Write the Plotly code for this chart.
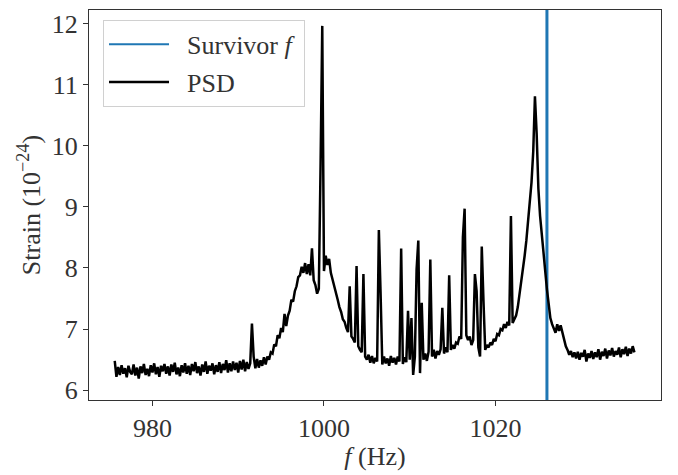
import numpy as np
import plotly.graph_objects as go

# PSD values, one value every 0.2 Hz starting at 975.6 Hz
f_start = 975.6
f_step = 0.2
psd = [
    6.48, 6.22, 6.38, 6.25, 6.41, 6.27, 6.36, 6.21, 6.40, 6.30,   # 975.6
    6.26, 6.42, 6.24, 6.37, 6.19, 6.39, 6.28, 6.43, 6.25, 6.35,   # 977.6
    6.23, 6.41, 6.29, 6.44, 6.26, 6.38, 6.22, 6.40, 6.31, 6.43,   # 979.6
    6.27, 6.39, 6.24, 6.42, 6.30, 6.45, 6.26, 6.37, 6.23, 6.41,   # 981.6
    6.29, 6.44, 6.27, 6.40, 6.25, 6.43, 6.31, 6.46, 6.28, 6.39,   # 983.6
    6.24, 6.42, 6.30, 6.47, 6.27, 6.40, 6.32, 6.44, 6.26, 6.41,   # 985.6
    6.30, 6.46, 6.28, 6.43, 6.33, 6.49, 6.29, 6.44, 6.31, 6.47,   # 987.6
    6.33, 6.45, 6.29, 6.48, 6.34, 6.50, 6.31, 6.46, 6.35, 6.44,   # 989.6
    7.09, 6.55, 6.36, 6.51, 6.37, 6.49, 6.40, 6.54, 6.42, 6.55,   # 991.6
    6.50, 6.62, 6.60, 6.75, 6.72, 6.90, 6.85, 7.02, 6.95, 7.25,   # 993.6
    7.05, 7.22, 7.30, 7.48, 7.45, 7.62, 7.70, 7.85, 7.88, 8.02,   # 995.6
    7.92, 8.08, 7.90, 8.06, 7.88, 8.32, 7.80, 7.72, 7.58, 7.66,   # 997.6
    9.65, 11.96, 7.95, 8.20, 8.05, 8.15, 7.92, 7.82, 7.70, 7.58,  # 999.6
    7.48, 7.36, 7.28, 7.16, 7.12, 7.02, 6.95, 7.70, 6.88, 6.84,   # 1001.6
    6.78, 8.03, 6.72, 6.66, 6.62, 7.90, 6.55, 6.50, 6.58, 6.45,   # 1003.6
    6.56, 6.44, 6.53, 6.47, 8.62, 7.60, 6.42, 6.55, 6.44, 6.52,   # 1005.6
    6.40, 6.56, 6.45, 6.53, 6.42, 6.55, 6.47, 8.32, 6.43, 6.54,   # 1007.6
    6.46, 7.30, 6.50, 7.18, 6.25, 6.55, 7.98, 8.45, 6.28, 7.43,   # 1009.6
    6.50, 6.60, 6.48, 6.63, 8.14, 6.55, 6.66, 6.52, 6.64, 6.58,   # 1011.6
    6.67, 7.35, 6.60, 6.70, 6.62, 7.88, 6.66, 6.74, 6.68, 6.78,   # 1013.6
    6.76, 6.88, 6.84, 8.50, 8.97, 6.90, 6.82, 6.88, 6.74, 6.82,   # 1015.6
    7.90, 7.62, 6.70, 6.55, 8.35, 7.46, 6.66, 6.74, 6.70, 6.78,   # 1017.6
    6.74, 6.84, 6.80, 6.92, 6.90, 7.00, 6.98, 7.08, 7.02, 7.12,   # 1019.6
    7.06, 8.85, 7.10, 7.16, 7.22, 7.36, 7.55, 7.75, 7.95, 8.20,   # 1021.6
    8.45, 8.75, 9.05, 9.40, 9.90, 10.81, 10.20, 9.30, 8.85, 8.50, # 1023.6
    8.20, 7.95, 7.65, 7.38, 7.18, 7.08, 7.02, 6.94, 7.08, 6.97,   # 1025.6
    7.06, 6.95, 6.82, 6.72, 6.66, 6.58, 6.64, 6.54, 6.62, 6.52,   # 1027.6
    6.63, 6.50, 6.61, 6.55, 6.66, 6.47, 6.60, 6.53, 6.64, 6.51,   # 1029.6
    6.62, 6.54, 6.67, 6.50, 6.63, 6.56, 6.68, 6.52, 6.65, 6.57,   # 1031.6
    6.69, 6.55, 6.64, 6.58, 6.70, 6.54, 6.67, 6.59, 6.71, 6.56,   # 1033.6
    6.68, 6.60, 6.72, 6.62,                                       # 1035.6
]
freq = np.round(f_start + f_step * np.arange(len(psd)), 1)

survivor_f = 1026.0

x_ticks = [980, 1000, 1020]
y_ticks = [6, 7, 8, 9, 10, 11, 12]
x_range = [972.6, 1039.3]
y_range = [5.84, 12.22]

FONT = "Liberation Serif"
TXT = "#333333"

fig = go.Figure()

# legend entry for the survivor frequency line (line itself is a shape);
# it lives on the tick-label axis x2 so that axis gets drawn
fig.add_trace(go.Scatter(
    x=[None], y=[None], mode="lines", name="\u00a0\u00a0Survivor <i>f</i>\u00a0",
    line=dict(color="#1f77b4", width=2), legendgroup="a", xaxis="x2",
))
fig.add_trace(go.Scatter(
    x=freq, y=psd, mode="lines", name="\u00a0\u00a0PSD",
    line=dict(color="black", width=2.5), legendgroup="b",
))

fig.add_shape(
    type="line", xref="x", yref="y domain", x0=survivor_f, x1=survivor_f,
    y0=0, y1=1, line=dict(color="#1f77b4", width=3), layer="below",
)

axis_common = dict(
    showgrid=False, zeroline=False, showline=True, mirror=True,
    linecolor=TXT, linewidth=1.2, ticks="outside", ticklen=5,
    tickwidth=1.2, tickcolor=TXT,
    tickfont=dict(family=FONT, size=26, color=TXT),
)

# page body has an 8px margin, so the figure is sized to fit the 678x475 window
fig.update_layout(
    width=670, height=467,
    margin=dict(l=81, r=17, t=2, b=75),
    paper_bgcolor="white", plot_bgcolor="white",
    font=dict(family=FONT, size=26, color=TXT),
    xaxis=dict(range=x_range, tickvals=x_ticks, showticklabels=False,
               automargin=False,
               title=dict(text="<i>f</i> (Hz)", font=dict(family=FONT, size=26),
                          standoff=41),
               **axis_common),
    # tick-label axis matching x (its own ticks invisible)
    xaxis2=dict(range=x_range, tickvals=x_ticks, matches="x", overlaying="x",
                anchor="free", position=0, side="bottom", automargin=False,
                showgrid=False, zeroline=False, showline=False,
                ticks="outside", ticklen=5, tickcolor="rgba(0,0,0,0)",
                tickfont=dict(family=FONT, size=26, color=TXT)),
    yaxis=dict(range=y_range, tickvals=y_ticks, ticklabeloverflow="allow",
               automargin=False,
               title=dict(text="Strain (10<sup>−24</sup>)",
                          font=dict(family=FONT, size=26), standoff=3),
               **axis_common),
    legend=dict(
        x=0.0245, y=0.975, xanchor="left", yanchor="top",
        bgcolor="rgba(255,255,255,0.8)", bordercolor="#d0d0d0", borderwidth=1,
        font=dict(family=FONT, size=26, color=TXT),
        tracegroupgap=1, traceorder="grouped", itemwidth=60,
    ),
    showlegend=True,
)

fig.write_html("out.html")
